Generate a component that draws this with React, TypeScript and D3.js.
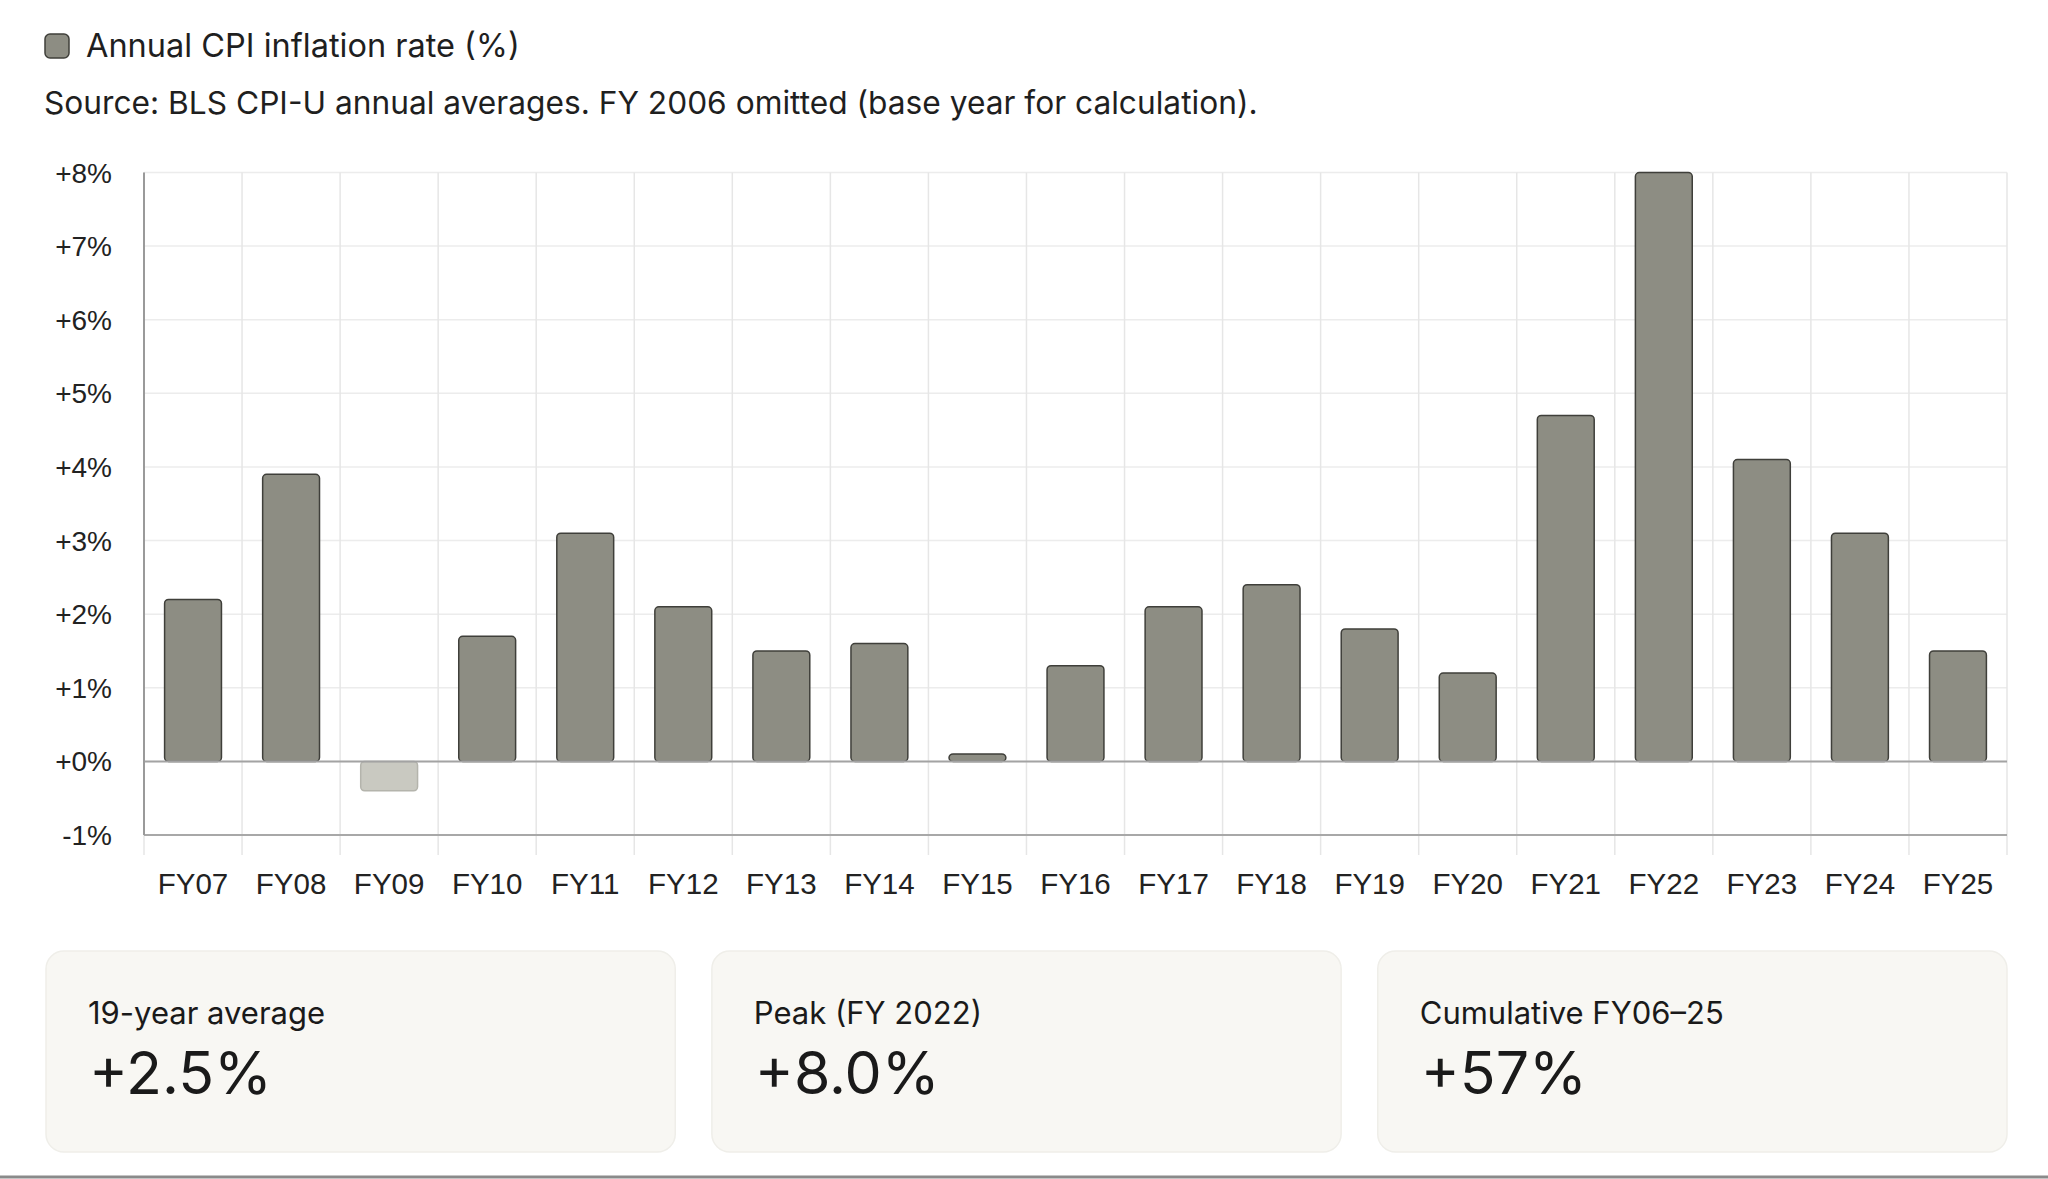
import * as React from 'react'
import * as d3 from 'd3'

// fiscal-year labels and annual CPI-U inflation (%)
const years = ['FY07', 'FY08', 'FY09', 'FY10', 'FY11', 'FY12', 'FY13', 'FY14', 'FY15', 'FY16', 'FY17', 'FY18', 'FY19', 'FY20', 'FY21', 'FY22', 'FY23', 'FY24', 'FY25']
const inflation = [2.2, 3.9, -0.4, 1.7, 3.1, 2.1, 1.5, 1.6, 0.1, 1.3, 2.1, 2.4, 1.8, 1.2, 4.7, 8.0, 4.1, 3.1, 1.5]
const yTicks = [-1, 0, 1, 2, 3, 4, 5, 6, 7, 8]

const cardLabels = ['19-year average', 'Peak (FY 2022)', 'Cumulative FY06\u201325']
const cardValues = ['+2.5%', '+8.0%', '+57%']

const legendLabel = 'Annual CPI inflation rate (%)'
const sourceNote = 'Source: BLS CPI-U annual averages. FY 2006 omitted (base year for calculation).'

const W = 2048
const H = 1179
const margin = { top: 172.5, right: 41, bottom: 344, left: 144 }

const uiFont = 'Inter, "Open Sans", sans-serif'
const axisFont = '"Liberation Sans", Arial, sans-serif'

export default function App() {
  const innerW = W - margin.left - margin.right
  const innerH = H - margin.top - margin.bottom

  const x = d3.scaleBand<string>().domain(years).range([0, innerW]).paddingInner(0.42).paddingOuter(0.21)
  const grid = d3.scaleBand<string>().domain(years).range([0, innerW]).padding(0)
  const y = d3.scaleLinear().domain([-1, 8]).range([innerH, 0])

  const cardScale = d3.scaleBand<number>().domain([0, 1, 2]).range([46, 2007]).paddingInner(0.055)

  return (
    <svg width={W} height={H} style={{ position: 'absolute', left: 0, top: 0, background: '#fff' }}>
      {/* legend */}
      <rect x={45} y={34} width={24} height={24} rx={5} fill="#8d8d83" stroke="#3f3f3a" strokeWidth={1.5} />
      <text x={86} y={57} fontFamily={uiFont} fontSize={32.5} fill="#1f1f1f">{legendLabel}</text>
      <text x={44} y={114} fontFamily={uiFont} fontSize={31.7} fill="#1f1f1f">{sourceNote}</text>

      <g transform={`translate(${margin.left},${margin.top})`}>
        {/* horizontal grid */}
        {yTicks.map(t => (
          <line key={'h' + t} x1={0} x2={innerW} y1={y(t)} y2={y(t)} stroke="#ececec" strokeWidth={1.5} />
        ))}
        {/* vertical grid at band edges */}
        {years.map(c => (
          <line key={'v' + c} x1={grid(c)!} x2={grid(c)!} y1={0} y2={innerH + 20} stroke="#e6e6e6" strokeWidth={1.5} />
        ))}
        <line x1={innerW} x2={innerW} y1={0} y2={innerH + 20} stroke="#e6e6e6" strokeWidth={1.5} />

        {/* bars */}
        {inflation.map((v, i) => {
          const neg = v < 0
          const top = neg ? y(0) : y(v)
          const h = Math.abs(y(v) - y(0))
          return (
            <rect
              key={years[i]}
              x={x(years[i])!}
              y={top}
              width={x.bandwidth()}
              height={h}
              rx={4}
              fill={neg ? '#c9c9c1' : '#8d8d83'}
              stroke={neg ? '#b4b4ac' : '#3f3f3a'}
              strokeWidth={1.5}
            />
          )
        })}

        {/* zero line and baseline */}
        <line x1={0} x2={innerW} y1={y(0)} y2={y(0)} stroke="#a3a3a3" strokeWidth={2} />
        <line x1={0} x2={innerW} y1={y(-1)} y2={y(-1)} stroke="#a8a8a8" strokeWidth={2} />
        <line x1={0} x2={0} y1={0} y2={innerH} stroke="#9a9a9a" strokeWidth={2} />

        {/* y axis labels */}
        {yTicks.map(t => (
          <text key={'yl' + t} x={-32} y={y(t)} dy="0.36em" textAnchor="end" fontFamily={axisFont} fontSize={28} fill="#222">
            {(t >= 0 ? '+' : '') + t + '%'}
          </text>
        ))}

        {/* x axis labels */}
        {years.map(c => (
          <text key={'xl' + c} x={grid(c)! + grid.bandwidth() / 2} y={innerH + 59} textAnchor="middle" fontFamily={axisFont} fontSize={29.5} fill="#222">
            {c}
          </text>
        ))}
      </g>

      {/* summary cards */}
      {cardLabels.map((lab, i) => {
        const cx = cardScale(i)!
        return (
          <g key={lab}>
            <rect x={cx} y={951} width={cardScale.bandwidth()} height={201} rx={18} fill="#f8f7f3" stroke="#efeee9" strokeWidth={1.5} />
            <text x={cx + 42} y={1024} fontFamily={uiFont} fontSize={31} fill="#1a1a1a">{lab}</text>
            <text x={cx + 43} y={1094} fontFamily={uiFont} fontSize={59} fill="#1a1a1a">{cardValues[i]}</text>
          </g>
        )
      })}

      <line x1={0} x2={W} y1={1177} y2={1177} stroke="#8a8a8a" strokeWidth={3} />
    </svg>
  )
}
